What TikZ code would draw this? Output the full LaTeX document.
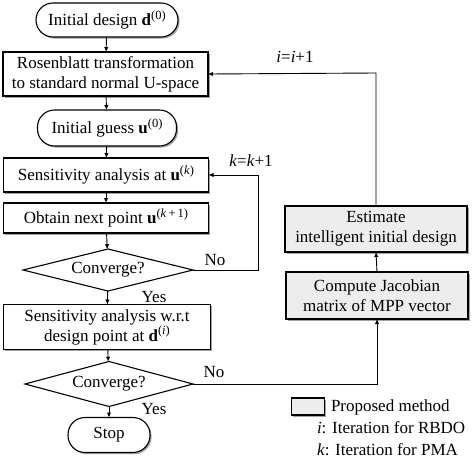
\documentclass[tikz,border=0pt]{standalone}
\usepackage{fontspec}
\setmainfont{Liberation Serif}
\usetikzlibrary{shapes.geometric,shadows,arrows.meta}
\newcommand{\supx}[1]{\raisebox{6.5pt}{\fontsize{12.5}{13}\selectfont #1}}
\begin{document}
\begin{tikzpicture}[x=1pt,y=-1pt,
  font=\fontsize{17}{20}\selectfont,
  every node/.style={inner sep=0pt,outer sep=0pt},
  sh/.style={drop shadow={shadow xshift=1.6pt,shadow yshift=-1.6pt,fill=black!45,opacity=0.8}},
  term/.style={draw=black,line width=1.1pt,fill=white,rounded corners=17pt,sh,align=center},
  proc/.style={draw=black,line width=1.1pt,fill=white,sh,align=center},
  prop/.style={draw=black,line width=1.1pt,fill=black!7,sh,align=center},
  dec/.style={draw=black,line width=1.1pt,fill=white,diamond,aspect=4,align=center},
  arr/.style={line width=0.9pt,-{Latex[length=5pt,width=4.5pt]}},
  lbl/.style={inner sep=0pt}]
\useasboundingbox (0,0) rectangle (474,461);

\node[term,minimum width=142pt,minimum height=34pt] (init) at (107,20) {Initial design \textbf{d}\supx{(0)}};
\node[proc,minimum width=205pt,minimum height=44pt] (ros) at (105.5,74) {Rosenblatt transformation\\to standard normal U-space};
\node[term,minimum width=139pt,minimum height=36pt] (guess) at (107,128) {Initial guess \textbf{u}\supx{(0)}};
\node[proc,minimum width=205pt,minimum height=34pt] (sens) at (106,175) {Sensitivity analysis at \textbf{u}\supx{(\textit{k})}};
\node[proc,minimum width=205pt,minimum height=30pt] (obt) at (106,218) {Obtain next point \textbf{u}\supx{(\textit{k}\,+\,1)}};
\node[dec,minimum width=170pt,minimum height=42pt] (c1) at (108,270) {Converge?};
\node[proc,minimum width=207pt,minimum height=45pt] (sens2) at (107,327) {Sensitivity analysis w.r.t\\design point at \textbf{d}\supx{(\textit{i})}};
\node[dec,minimum width=168pt,minimum height=45pt] (c2) at (109,384) {Converge?};
\node[term,minimum width=82pt,minimum height=35pt] (stop) at (109,435) {Stop};
\node[prop,minimum width=182pt,minimum height=46pt] (est) at (376,229) {Estimate\\intelligent initial design};
\node[prop,minimum width=182pt,minimum height=47pt] (jac) at (377,295.5) {Compute Jacobian\\matrix of MPP vector};

\coordinate (l1a) at (258,270);
\coordinate (l1b) at (258,175);
\coordinate (l2a) at (377,384);
\coordinate (l3a) at (376,73);

\draw[arr] (init) -- (ros);
\draw[arr] (ros) -- (guess);
\draw[arr] (guess) -- (sens);
\draw[arr] (sens) -- (obt);
\draw[arr] (obt) -- (c1);
\draw[arr] (c1) -- (sens2);
\draw[arr] (sens2) -- (c2);
\draw[arr] (c2) -- (stop);
\draw[arr] (c1.east) -- (l1a) -- (l1b) -- (sens.east);
\draw[arr] (c2.east) -- (l2a) -- (jac.south);
\draw[arr] (jac.north) -- (est.south);
\draw[arr] (est.north) -- (l3a) -- (ros.east);

\node[lbl] (no1) at (215,260) {No};
\node[lbl] (no2) at (214,372) {No};
\node[lbl] (yes1) at (154,297) {Yes};
\node[lbl] (yes2) at (154,409) {Yes};
\node[lbl] (kk) at (251,161) {\textit{k}=\textit{k}+1};
\node[lbl] (ii) at (295,57) {\textit{i}=\textit{i}+1};

\node[prop,minimum width=33pt,minimum height=17pt] (leg) at (308,406.5) {};
\node[lbl,anchor=west] (legt) at (331,407) {Proposed method};
\node[lbl,anchor=west] (legi) at (317,428) {\textit{i}: Iteration for RBDO};
\node[lbl,anchor=west] (legk) at (317,450) {\textit{k}: Iteration for PMA};
\end{tikzpicture}
\end{document}
